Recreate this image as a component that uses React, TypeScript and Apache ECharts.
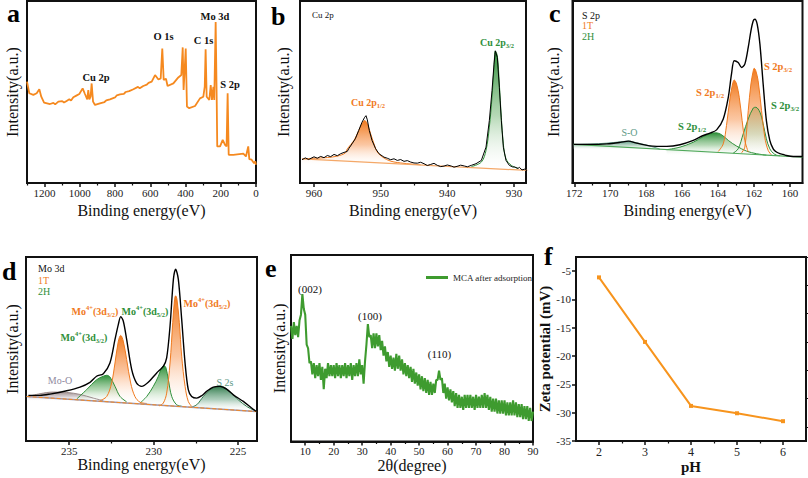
import React, { useEffect, useRef } from "react";
import * as echarts from "echarts";

const SERIF = '"Liberation Serif", "Times New Roman", Times, serif';
const INK = "#111111";
const ORANGE = "#F5891F";
const FIT_ORANGE = "#F07A1E";
const FIT_GREEN = "#2F8F3A";
const XRD_GREEN = "#3E9B2F";
const TEAL = "#5E9A86";
const MAUVE = "#9D95AE";

// ---------- (a) XPS survey ----------
const surveyTicks = [0, 200, 400, 600, 800, 1000, 1200];
const surveyMinor = [100, 300, 500, 700, 900, 1100, 1300];
const surveySpectrum = [
  [1300, 55.7], [1287, 49.3], [1264, 48.4], [1245, 49.3], [1230, 51.5], [1219, 47.4], [1203, 44.2],
  [1169, 43.4], [1150, 44.0], [1140, 43.2], [1122, 44.7], [1100, 45.0], [1090, 44.2], [1075, 45.1],
  [1060, 46.0], [1050, 45.3], [1037, 47.1], [1020, 48.0], [1003, 48.9], [984, 52.0], [971, 48.9],
  [958, 46.0], [952, 51.1], [946, 46.0], [939, 47.4], [933, 54.7], [925, 44.7], [914, 42.9], [886, 43.8],
  [860, 44.5], [850, 45.4], [829, 46.0], [800, 47.0], [790, 48.2], [772, 48.7], [750, 49.0], [740, 50.0],
  [720, 50.5], [696, 51.5], [670, 52.8], [660, 52.0], [640, 53.3], [620, 54.0], [610, 55.0], [592, 55.7],
  [573, 59.3], [554, 56.9], [541, 57.5], [532, 73.9], [524, 56.6], [511, 57.3], [502, 53.3], [469, 54.7],
  [441, 58.0], [424, 59.3], [416, 74.5], [411, 51.1], [407, 58.4], [399, 73.9], [392, 42.0], [379, 41.1],
  [346, 42.3], [318, 46.5], [299, 47.4], [291, 52.9], [286, 73.5], [280, 47.4], [265, 45.6], [257, 53.8],
  [250, 45.6], [242, 52.9], [237, 45.6], [229, 88.5], [223, 45.6], [220, 20.1], [204, 20.1], [189, 23.7],
  [176, 21.0], [167, 20.1], [161, 49.3], [155, 15.5], [129, 15.5], [72, 16.1], [57, 14.6], [44, 20.1],
  [38, 13.1], [25, 12.8], [11, 10.9], [4, 11.9], [0, 10.0],
];

// ---------- (b) Cu 2p ----------
const cuTicks = [930, 940, 950, 960];
const cuMinor = [935, 945, 955];
const cuRaw = [
  [961.8, 12.8], [961.3, 13.8], [960.8, 12.9], [960.0, 14.4], [959.5, 13.6], [959.0, 14.6], [958.5, 13.9],
  [958.0, 15.1], [957.5, 14.5], [957.0, 15.7], [956.5, 15.0], [956.0, 16.1], [955.5, 16.8], [955.0, 17.4],
  [954.8, 18.8], [954.3, 21.5], [953.8, 24.3], [953.3, 28.8], [952.8, 33.4], [952.4, 36.1], [952.2, 37.0],
  [952.0, 34.7], [951.7, 28.8], [951.3, 23.4], [950.75, 18.8], [950.25, 16.1], [949.5, 14.2], [949.0, 13.6],
  [948.5, 12.8], [948.0, 13.3], [947.5, 12.4], [947.0, 12.9], [946.5, 11.9], [946.0, 12.3], [945.5, 11.5],
  [945.0, 11.0], [944.5, 10.9], [944.0, 11.4], [943.5, 10.6], [943.0, 9.6], [942.5, 10.2], [942.0, 10.8],
  [941.5, 9.7], [941.0, 9.0], [940.5, 9.3], [940.0, 9.9], [939.4, 9.3], [939.0, 8.7], [938.4, 9.3],
  [938.0, 9.8], [937.4, 9.3], [937.0, 8.9], [936.4, 9.7], [935.7, 10.6], [934.9, 12.4], [934.2, 19.7],
  [933.7, 34.3], [933.3, 50.7], [933.0, 65.3], [932.8, 72.6], [932.5, 69.0], [932.2, 52.6], [931.9, 34.3],
  [931.6, 19.7], [931.2, 12.4], [930.7, 9.7], [930.2, 8.8], [929.9, 8.8], [929.4, 8.0], [929.2, 8.6],
  [928.8, 7.2], [928.4, 7.6], [928.0, 6.6],
];
const cuFit12 = [
  [961.8, 13.3], [958.0, 14.0], [956.5, 14.8], [955.3, 16.5], [955.0, 18.8], [954.0, 23.4], [953.3, 28.8],
  [952.8, 32.5], [952.4, 34.3], [952.0, 32.5], [951.5, 27.0], [951.0, 21.5], [950.5, 17.0], [949.7, 14.2],
  [948.5, 12.0], [946.5, 10.8], [944.0, 10.0],
];
const cuFit32 = [
  [936.4, 9.0], [934.9, 11.5], [934.2, 17.9], [933.7, 30.7], [933.3, 47.1], [933.0, 63.5], [932.8, 72.6],
  [932.5, 69.9], [932.2, 54.4], [931.9, 36.1], [931.6, 21.5], [931.2, 13.3], [930.4, 9.7], [929.4, 8.0],
];
const cuBaseline = [[961.8, 13.3], [928.0, 6.9]];

// ---------- (c) S 2p ----------
const sTicks = [160, 162, 164, 166, 168, 170, 172];
const sMinor = [161, 163, 165, 167, 169, 171];
const sEnvelope = [
  [172.04, 21.2], [171.12, 21.2], [170.19, 21.5], [169.45, 22.3], [168.99, 23.0], [168.53, 21.9],
  [167.79, 20.4], [166.86, 20.1], [166.12, 21.0], [165.38, 23.4], [164.82, 26.1], [164.45, 27.4],
  [164.08, 29.2], [163.71, 35.2], [163.43, 47.1], [163.25, 59.9], [163.1, 67.2], [162.88, 66.2],
  [162.69, 63.5], [162.51, 65.3], [162.32, 74.5], [162.17, 83.6], [162.04, 89.1], [161.95, 90.0],
  [161.82, 87.2], [161.67, 76.3], [161.49, 54.4], [161.31, 34.3], [161.12, 23.4], [160.93, 18.8],
  [160.75, 17.0], [160.56, 16.1], [160.38, 15.7], [160.19, 15.1], [159.82, 14.6], [159.3, 14.6],
];
const sBaseline = [[172.04, 21.2], [159.3, 14.2]];
const sOxide = [
  [172.04, 21.2], [171.12, 21.4], [170.19, 21.9], [169.45, 22.6], [168.99, 23.0], [168.53, 22.1],
  [167.97, 20.8], [167.41, 19.2], [167.23, 18.5],
];
const s2H12 = [
  [166.86, 18.3], [166.12, 19.7], [165.38, 22.4], [164.82, 25.5], [164.45, 27.0], [164.14, 27.6],
  [163.8, 26.5], [163.43, 23.4], [162.97, 20.3], [162.41, 17.5], [161.86, 16.1], [161.31, 15.3],
];
const s2H32 = [
  [163.16, 16.4], [162.88, 18.8], [162.6, 27.0], [162.32, 35.2], [162.04, 41.2], [161.9, 41.6],
  [161.67, 38.9], [161.49, 32.5], [161.31, 24.3], [161.12, 18.8], [160.93, 16.4], [160.75, 15.3], [160.56, 15.0],
];
const s1T12 = [
  [163.99, 17.3], [163.71, 21.5], [163.53, 31.6], [163.34, 46.2], [163.19, 54.4], [163.1, 56.6],
  [162.97, 54.4], [162.82, 47.1], [162.66, 34.3], [162.51, 23.4], [162.32, 17.0],
];
const s1T32 = [
  [162.69, 16.6], [162.51, 19.7], [162.32, 39.8], [162.17, 54.4], [162.04, 61.7], [161.99, 63.0],
  [161.9, 61.7], [161.77, 56.2], [161.58, 39.8], [161.4, 25.2], [161.21, 17.9], [161.03, 15.5],
];

// ---------- (d) Mo 3d ----------
const moTicks = [225, 230, 235];
const moMinor = [227.5, 232.5];
const moEnvelope = [
  [237.42, 24.8], [236.73, 24.8], [236.14, 25.5], [235.15, 27.3], [234.36, 29.3], [233.77, 31.9],
  [233.38, 35.2], [232.98, 36.6], [232.59, 42.4], [232.29, 55.2], [232.09, 63.4], [231.95, 67.6],
  [231.8, 65.2], [231.6, 55.2], [231.3, 38.8], [231.01, 31.5], [230.71, 29.7], [230.32, 31.9],
  [229.82, 37.0], [229.43, 40.6], [229.23, 45.2], [229.03, 62.5], [228.83, 88.0], [228.7, 93.4],
  [228.54, 88.0], [228.34, 66.1], [228.14, 42.4], [227.95, 27.9], [227.75, 24.2], [227.45, 23.3],
  [227.16, 24.6], [226.86, 27.0], [226.47, 29.3], [226.07, 29.7], [225.68, 28.2], [225.28, 25.1],
  [224.69, 21.5], [224.2, 17.9], [223.9, 16.0],
];
const moBaseline = [[237.52, 24.2], [223.9, 16.0]];
const moOxide = [
  [237.42, 24.2], [236.73, 25.7], [235.94, 26.6], [235.15, 26.4], [234.36, 25.3], [233.57, 23.3], [232.98, 21.9],
];
const mo2H32 = [
  [234.56, 22.8], [233.97, 27.9], [233.38, 33.3], [232.98, 35.2], [232.78, 35.7], [232.59, 34.8],
  [232.29, 29.7], [231.99, 24.2], [231.6, 21.3],
];
const mo1T32 = [
  [233.18, 21.9], [232.78, 24.2], [232.49, 31.5], [232.29, 42.4], [232.09, 54.3], [231.95, 57.4],
  [231.8, 54.3], [231.6, 44.3], [231.36, 31.5], [231.11, 24.2], [230.81, 21.1], [230.41, 20.4],
];
const mo2H52 = [
  [230.81, 20.6], [230.41, 24.2], [230.02, 29.7], [229.72, 35.2], [229.53, 39.7], [229.39, 41.0],
  [229.27, 39.7], [229.13, 33.3], [228.93, 24.2], [228.64, 19.7], [228.34, 18.9],
];
const mo1T52 = [
  [229.66, 19.1], [229.43, 20.6], [229.23, 26.0], [229.03, 42.4], [228.87, 64.3], [228.76, 77.0],
  [228.7, 78.9], [228.62, 77.0], [228.48, 64.3], [228.34, 46.1], [228.14, 29.7], [227.95, 21.5], [227.75, 18.8],
];
const s2s = [
  [227.85, 18.2], [227.45, 19.7], [227.06, 24.2], [226.66, 27.9], [226.27, 29.7], [226.07, 29.9],
  [225.78, 29.0], [225.38, 26.0], [224.99, 22.4], [224.49, 18.8], [224.0, 16.4],
];

// ---------- (e) XRD ----------
const xrdTicks = [10, 20, 30, 40, 50, 60, 70, 80, 90];
const xrdMinor = [15, 25, 35, 45, 55, 65, 75, 85];
const xrdPattern = [
  [5, 62], [5.5, 55], [6, 64], [6.5, 57], [7, 62], [7.5, 56], [8, 65], [8.5, 68], [9, 79], [9.5, 71],
  [10, 68], [10.5, 52], [11, 50], [11.5, 42], [12, 43], [12.5, 36], [13, 42], [13.5, 34], [14, 41], [14.5, 35],
  [15, 42], [15.5, 33], [16, 40], [16.5, 28], [17, 39], [17.5, 34], [18, 42], [18.5, 35], [19, 41], [19.5, 35],
  [20, 41], [20.5, 34], [21, 42], [21.5, 35], [22, 41], [22.5, 34], [23, 41], [23.5, 35], [24, 42], [24.5, 34],
  [25, 41], [25.5, 35], [26, 42], [26.5, 33], [27, 41], [27.5, 35], [28, 42], [28.5, 35], [29, 44], [29.5, 36],
  [30, 41], [30.5, 31], [31, 43], [31.5, 52], [32, 63], [32.5, 56], [33, 57], [33.5, 50], [34, 58], [34.5, 50],
  [35, 58], [35.5, 51], [36, 57], [36.5, 49], [37, 54], [37.5, 46], [38, 51], [38.5, 43], [39, 48], [39.5, 40],
  [40, 46], [40.5, 39], [41, 45], [41.5, 38], [42, 47], [42.5, 39], [43, 46], [43.5, 38], [44, 44], [44.5, 36],
  [45, 42], [45.5, 35], [46, 41], [46.5, 34], [47, 40], [47.5, 32], [48, 39], [48.5, 31], [49, 37], [49.5, 30],
  [50, 36], [50.5, 28], [51, 35], [51.5, 27], [52, 34], [52.5, 26], [53, 33], [53.5, 25], [54, 32], [54.5, 25],
  [55, 31], [55.5, 26], [56, 33], [56.5, 33], [57, 38], [57.5, 33], [58, 34], [58.5, 26], [59, 31], [59.5, 23],
  [60, 29], [60.5, 22], [61, 28], [61.5, 21], [62, 27], [62.5, 19], [63, 26], [63.5, 18], [64, 25], [64.5, 18],
  [65, 24], [65.5, 17], [66, 25], [66.5, 18], [67, 25], [67.5, 18], [68, 25], [68.5, 18], [69, 24], [69.5, 17],
  [70, 25], [70.5, 18], [71, 24], [71.5, 18], [72, 25], [72.5, 18], [73, 26], [73.5, 18], [74, 25], [74.5, 17],
  [75, 24], [75.5, 16], [76, 23], [76.5, 16], [77, 23], [77.5, 15], [78, 22], [78.5, 15], [79, 22], [79.5, 15],
  [80, 22], [80.5, 14], [81, 21], [81.5, 14], [82, 21], [82.5, 14], [83, 22], [83.5, 14], [84, 21], [84.5, 13],
  [85, 20], [85.5, 13], [86, 20], [86.5, 12], [87, 19], [87.5, 12], [88, 19], [88.5, 11], [89, 18], [89.5, 11],
  [90, 16],
];

// ---------- (f) Zeta potential ----------
const pHValues = [2, 3, 4, 5, 6];
const zetaValues = [-6.1, -17.5, -28.8, -30.1, -31.5];
const pHTicks = [2, 3, 4, 5, 6];
const pHMinor = [2.5, 3.5, 4.5, 5.5];
const zetaTicks = [-35, -30, -25, -20, -15, -10, -5];
const zetaMinor = [-32.5, -27.5, -22.5, -17.5, -12.5, -7.5, -2.5];

// ---------- layout ----------
const grids = [
  { left: 27, top: 1, width: 229, height: 182 },
  { left: 300, top: 1, width: 226, height: 182 },
  { left: 572.5, top: 1, width: 230, height: 182 },
  { left: 26, top: 257, width: 231, height: 184 },
  { left: 291, top: 255, width: 242, height: 186.5 },
  { left: 576, top: 257, width: 230, height: 184 },
];

const xSpecs = [
  { min: 0, max: 1300, inverse: true, ticks: surveyTicks, minor: surveyMinor, name: "Binding energy(eV)", gap: 19, bold: false, size: 16, label: 11, margin: 4 },
  { min: 928.2, max: 962.1, inverse: true, ticks: cuTicks, minor: cuMinor, name: "Binding energy(eV)", gap: 19, bold: false, size: 16, label: 11, margin: 4 },
  { min: 159.3, max: 172.1, inverse: true, ticks: sTicks, minor: sMinor, name: "Binding energy(eV)", gap: 19, bold: false, size: 16, label: 11, margin: 4 },
  { min: 223.88, max: 237.56, inverse: true, ticks: moTicks, minor: moMinor, name: "Binding energy(eV)", gap: 14, bold: false, size: 16, label: 11, margin: 4 },
  { min: 5, max: 90, inverse: false, ticks: xrdTicks, minor: xrdMinor, name: "2θ(degree)", gap: 10, bold: false, size: 16, label: 11, margin: 4 },
  { min: 1.5, max: 6.5, inverse: false, ticks: pHTicks, minor: pHMinor, name: "pH", gap: 18, bold: true, size: 15, label: 12, margin: 5 },
];

const intensityGaps = [7, 9, 11.5, 6, 4];

const plainNumber = (v: number) => String(v);

function tickLine(width: number) {
  return { color: INK, width };
}

function buildXAxes() {
  const axes: any[] = [];
  xSpecs.forEach((s, i) => {
    axes.push({
      type: "value", gridIndex: i, min: s.min, max: s.max, inverse: s.inverse, position: "bottom",
      name: s.name, nameLocation: "middle", nameGap: s.gap,
      nameTextStyle: { fontFamily: SERIF, fontSize: s.size, fontWeight: s.bold ? "bold" : "normal", color: INK },
      axisLine: { show: true, onZero: false, lineStyle: tickLine(2) },
      axisTick: { show: true, customValues: s.ticks, length: 4, lineStyle: tickLine(1.5) },
      axisLabel: { show: true, customValues: s.ticks, formatter: plainNumber, fontFamily: SERIF, fontSize: s.label, color: "#222", margin: s.margin },
      splitLine: { show: false },
    });
    axes.push({
      type: "value", gridIndex: i, min: s.min, max: s.max, inverse: s.inverse, position: "bottom",
      axisLine: { show: false, onZero: false },
      axisTick: { show: true, customValues: s.minor, length: 2.5, lineStyle: tickLine(1.2) },
      axisLabel: { show: false },
      splitLine: { show: false },
    });
  });
  return axes;
}

function buildYAxes() {
  const axes: any[] = [];
  for (let i = 0; i < 5; i++) {
    axes.push({
      type: "value", gridIndex: i, min: 0, max: 100,
      name: "Intensity(a.u.)", nameLocation: "middle", nameGap: intensityGaps[i], nameRotate: 90,
      nameTextStyle: { fontFamily: SERIF, fontSize: 16, color: INK },
      axisLine: { show: true, onZero: false, lineStyle: tickLine(2) },
      axisTick: { show: false }, axisLabel: { show: false }, splitLine: { show: false },
    });
  }
  axes.push({
    type: "value", gridIndex: 5, min: -35, max: -2.5,
    name: "Zeta potential (mV)", nameLocation: "middle", nameGap: 21, nameRotate: 90,
    nameTextStyle: { fontFamily: SERIF, fontSize: 15, fontWeight: "bold", color: INK },
    axisLine: { show: true, onZero: false, lineStyle: tickLine(2) },
    axisTick: { show: true, customValues: zetaTicks, length: 4, lineStyle: tickLine(1.5) },
    axisLabel: { show: true, customValues: zetaTicks, formatter: plainNumber, fontFamily: SERIF, fontSize: 11, color: "#222", margin: 5 },
    splitLine: { show: false },
  });
  axes.push({
    type: "value", gridIndex: 5, min: -35, max: -2.5,
    axisLine: { show: false, onZero: false },
    axisTick: { show: true, customValues: zetaMinor, length: 2.5, lineStyle: tickLine(1.2) },
    axisLabel: { show: false }, splitLine: { show: false },
  });
  return axes;
}

function line(panel: number, data: number[][], color: string, width: number, extra: any = {}) {
  return {
    type: "line", xAxisIndex: panel * 2, yAxisIndex: panel, data, symbol: "none", showSymbol: false,
    lineStyle: { color, width }, itemStyle: { color }, silent: true, ...extra,
  };
}

function peak(panel: number, data: number[][], color: string, fade: string) {
  const ys = data.map((d) => d[1]);
  const top = Math.max(...ys);
  const base = Math.min(...ys);
  const ob = Math.min(0.999, (top - base) / top);
  return line(panel, data, color, 1, {
    smooth: 0.35,
    areaStyle: {
      opacity: 1,
      color: new echarts.graphic.LinearGradient(0, 0, 0, 1, [
        { offset: 0, color },
        { offset: ob * 0.55, color: fade },
        { offset: ob, color: "rgba(255,255,255,0.15)" },
        { offset: Math.min(1, ob + 0.001), color: "rgba(255,255,255,0)" },
        { offset: 1, color: "rgba(255,255,255,0)" },
      ]),
    },
  });
}

function txt(x: number, y: number, text: string, color: string, size: number, opts: any = {}) {
  return {
    type: "text", x, y, z: 100, silent: true,
    style: {
      text, fill: color, fontSize: size, fontFamily: SERIF, fontWeight: opts.bold ? "bold" : "normal",
      textAlign: opts.align || "center", textVerticalAlign: "middle",
    },
  };
}

function sci(x: number, y: number, text: string, color: string, size: number) {
  const small = Math.round(size * 0.65 * 10) / 10;
  const common = { fontFamily: SERIF, fontWeight: "bold", fill: color, lineHeight: size + 6 };
  return {
    type: "text", x, y, z: 100, silent: true,
    style: {
      text, textAlign: "center", textVerticalAlign: "middle",
      rich: {
        m: { ...common, fontSize: size },
        sub: { ...common, fontSize: small, padding: [7, 0, 0, 0] },
        sup: { ...common, fontSize: small, padding: [0, 0, 8, 0] },
      },
    },
  };
}

const panelLetters = [
  { t: "a", x: 7, y: 13 },
  { t: "b", x: 271, y: 16.2 },
  { t: "c", x: 549, y: 13 },
  { t: "d", x: 2, y: 271.2 },
  { t: "e", x: 265, y: 268.2 },
  { t: "f", x: 544, y: 256.2 },
];

function buildGraphics() {
  const g: any[] = [];
  panelLetters.forEach((p) => g.push(txt(p.x, p.y, p.t, "#000", 26, { bold: true, align: "left" })));
  // (a)
  g.push(txt(96, 77, "Cu 2p", INK, 10.5, { bold: true }));
  g.push(txt(163.5, 36, "O 1s", INK, 10.5, { bold: true }));
  g.push(txt(203.5, 40, "C 1s", INK, 10.5, { bold: true }));
  g.push(txt(215, 16, "Mo 3d", INK, 10.5, { bold: true }));
  g.push(txt(230, 84, "S 2p", INK, 10.5, { bold: true }));
  // (b)
  g.push(txt(312, 15, "Cu 2p", INK, 9, { align: "left" }));
  g.push(sci(368, 102, "{m|Cu 2p}{sub|1/2}", FIT_ORANGE, 10));
  g.push(sci(497, 42, "{m|Cu 2p}{sub|3/2}", FIT_GREEN, 10));
  // (c)
  g.push(txt(582, 15, "S 2p", INK, 10, { align: "left" }));
  g.push(txt(582, 25.5, "1T", FIT_ORANGE, 10, { align: "left" }));
  g.push(txt(582, 36, "2H", FIT_GREEN, 10, { align: "left" }));
  g.push(sci(778, 66, "{m|S 2p}{sub|3/2}", FIT_ORANGE, 10.5));
  g.push(sci(710, 92, "{m|S 2p}{sub|1/2}", FIT_ORANGE, 10.5));
  g.push(sci(785, 105, "{m|S 2p}{sub|3/2}", FIT_GREEN, 10.5));
  g.push(sci(692, 126, "{m|S 2p}{sub|1/2}", FIT_GREEN, 10.5));
  g.push(txt(629.5, 132, "S-O", TEAL, 10));
  // (d)
  g.push(txt(38, 268, "Mo 3d", INK, 10, { align: "left" }));
  g.push(txt(38, 280, "1T", FIT_ORANGE, 10, { align: "left" }));
  g.push(txt(38, 291.5, "2H", FIT_GREEN, 10, { align: "left" }));
  g.push(sci(95, 311, "{m|Mo}{sup|4+}{m|(3d}{sub|3/2}{m|)}", FIT_ORANGE, 10));
  g.push(sci(145, 311, "{m|Mo}{sup|4+}{m|(3d}{sub|5/2}{m|)}", FIT_GREEN, 10));
  g.push(sci(207, 303, "{m|Mo}{sup|4+}{m|(3d}{sub|5/2}{m|)}", FIT_ORANGE, 10));
  g.push(sci(84, 337, "{m|Mo}{sup|4+}{m|(3d}{sub|3/2}{m|)}", FIT_GREEN, 10));
  g.push(txt(60, 380, "Mo-O", "#8F8AA0", 10));
  g.push(txt(225, 382, "S 2s", TEAL, 10));
  // (e)
  g.push(txt(310, 289, "(002)", INK, 11));
  g.push(txt(370, 316, "(100)", INK, 11));
  g.push(txt(439.5, 354, "(110)", INK, 11));
  return g;
}

function buildSeries() {
  const lightOrange = "rgba(250,185,140,0.8)";
  const lightGreen = "rgba(150,200,150,0.7)";
  return [
    // a
    line(0, surveySpectrum, ORANGE, 1.8),
    // b
    peak(1, cuFit12, FIT_ORANGE, lightOrange),
    peak(1, cuFit32, FIT_GREEN, lightGreen),
    line(1, cuBaseline, "#F4A868", 1.2),
    line(1, cuRaw, "#000", 1),
    // c
    peak(2, sOxide, TEAL, "rgba(170,205,185,0.7)"),
    peak(2, s2H12, FIT_GREEN, lightGreen),
    peak(2, s2H32, FIT_GREEN, lightGreen),
    peak(2, s1T12, FIT_ORANGE, lightOrange),
    peak(2, s1T32, FIT_ORANGE, lightOrange),
    line(2, sBaseline, "#4FA85A", 1.2),
    line(2, sEnvelope, "#000", 1.4, { smooth: 0.3 }),
    // d
    peak(3, moOxide, "#9C8C8C", "rgba(200,190,195,0.7)"),
    peak(3, mo2H32, FIT_GREEN, lightGreen),
    peak(3, mo2H52, FIT_GREEN, lightGreen),
    peak(3, s2s, "#2F7A4A", "rgba(140,185,160,0.7)"),
    peak(3, mo1T32, FIT_ORANGE, lightOrange),
    peak(3, mo1T52, FIT_ORANGE, lightOrange),
    line(3, moBaseline, MAUVE, 1.4),
    line(3, moBaseline, ORANGE, 1, { lineStyle: { color: ORANGE, width: 1, type: "dashed" } }),
    line(3, moEnvelope, "#000", 1.4, { smooth: 0.3 }),
    // e
    line(4, xrdPattern, XRD_GREEN, 2.1, { name: "MCA after adsorption" }),
    // f
    {
      type: "line", xAxisIndex: 10, yAxisIndex: 5, name: "Zeta",
      data: pHValues.map((p, i) => [p, zetaValues[i]]),
      symbol: "rect", symbolSize: 4, showSymbol: true,
      lineStyle: { color: "#F7941D", width: 2 }, itemStyle: { color: "#F7941D" },
    },
  ];
}

export default function App() {
  const ref = useRef<HTMLDivElement>(null);
  useEffect(() => {
    if (!ref.current) return;
    const chart = echarts.init(ref.current, undefined, { renderer: "svg" });
    chart.setOption({
      animation: false,
      backgroundColor: "#ffffff",
      grid: grids.map((g) => ({ ...g, show: true, borderColor: INK, borderWidth: 2, backgroundColor: "transparent", containLabel: false })),
      xAxis: buildXAxes(),
      yAxis: buildYAxes(),
      legend: [{
        show: true, data: ["MCA after adsorption"], left: 421, top: 268, itemWidth: 22, itemHeight: 3,
        icon: "rect", itemStyle: { color: XRD_GREEN },
        textStyle: { fontFamily: SERIF, fontSize: 9, color: "#222" }, selectedMode: false,
      }],
      series: buildSeries(),
      graphic: buildGraphics(),
    });
    return () => chart.dispose();
  }, []);
  return (
    <div
      ref={ref}
      style={{ position: "fixed", left: 0, top: 0, width: 808, height: 478, background: "#fff" }}
    />
  );
}
